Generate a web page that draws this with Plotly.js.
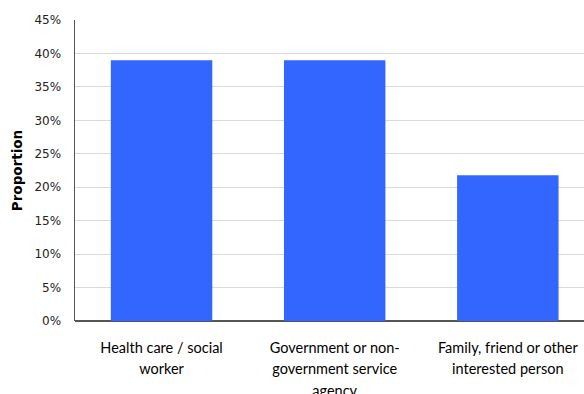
<!DOCTYPE html>
<html>
<head>
<meta charset="utf-8">
<script src="https://cdn.plot.ly/plotly-3.0.1.min.js"></script>
<style>html,body{margin:0;padding:0;background:#fff;}#chart{width:584px;height:394px;}</style>
</head>
<body>
<div id="chart"></div>
<script>
const categories = [
  "Health care / social<br>worker",
  "Government or non-<br>government service<br>agency",
  "Family, friend or other<br>interested person"
];
const proportions = [39.0, 39.0, 21.8];
const yTickValues = [0, 5, 10, 15, 20, 25, 30, 35, 40, 45];
const yTickLabels = ["0%", "5%", "10%", "15%", "20%", "25%", "30%", "35%", "40%", "45%"];

const trace = {
  type: "bar",
  x: categories,
  y: proportions,
  marker: {color: "#3366ff"},
  hoverinfo: "none"
};

const layout = {
  width: 584,
  height: 394,
  margin: {l: 75, r: 0, t: 20, b: 73},
  paper_bgcolor: "#ffffff",
  plot_bgcolor: "#ffffff",
  font: {family: "DejaVu Sans", size: 12, color: "#222"},
  bargap: 0.414,
  showlegend: false,
  xaxis: {
    range: [-0.5, 2.44],
    showgrid: false,
    showline: false,
    zeroline: false,
    ticks: "",
    ticklabelstandoff: 16,
    tickfont: {family: "Lato", size: 14.5, color: "#000"},
    fixedrange: true
  },
  yaxis: {
    range: [0, 45],
    tickmode: "array",
    tickvals: yTickValues,
    ticktext: yTickLabels,
    showgrid: true,
    gridcolor: "#d9d9d9",
    gridwidth: 1,
    showline: true,
    linecolor: "#555555",
    linewidth: 1.5,
    zeroline: true,
    zerolinecolor: "#555555",
    zerolinewidth: 1.5,
    ticks: "",
    ticklabelstandoff: 10,
    tickfont: {family: "DejaVu Sans", size: 12, color: "#222"},
    title: {
      text: "<b>Proportion</b>",
      font: {family: "DejaVu Sans", size: 13.5, color: "#000"},
      standoff: 8
    },
    automargin: false,
    fixedrange: true
  }
};

Plotly.newPlot("chart", [trace], layout, {displayModeBar: false, staticPlot: true}).then(function () {
  document.querySelectorAll(".xtick text").forEach(function (t) {
    t.querySelectorAll("tspan.line").forEach(function (ts, i) {
      if (i > 0) ts.setAttribute("dy", 21.5 * i);
    });
  });
});
</script>
</body>
</html>
